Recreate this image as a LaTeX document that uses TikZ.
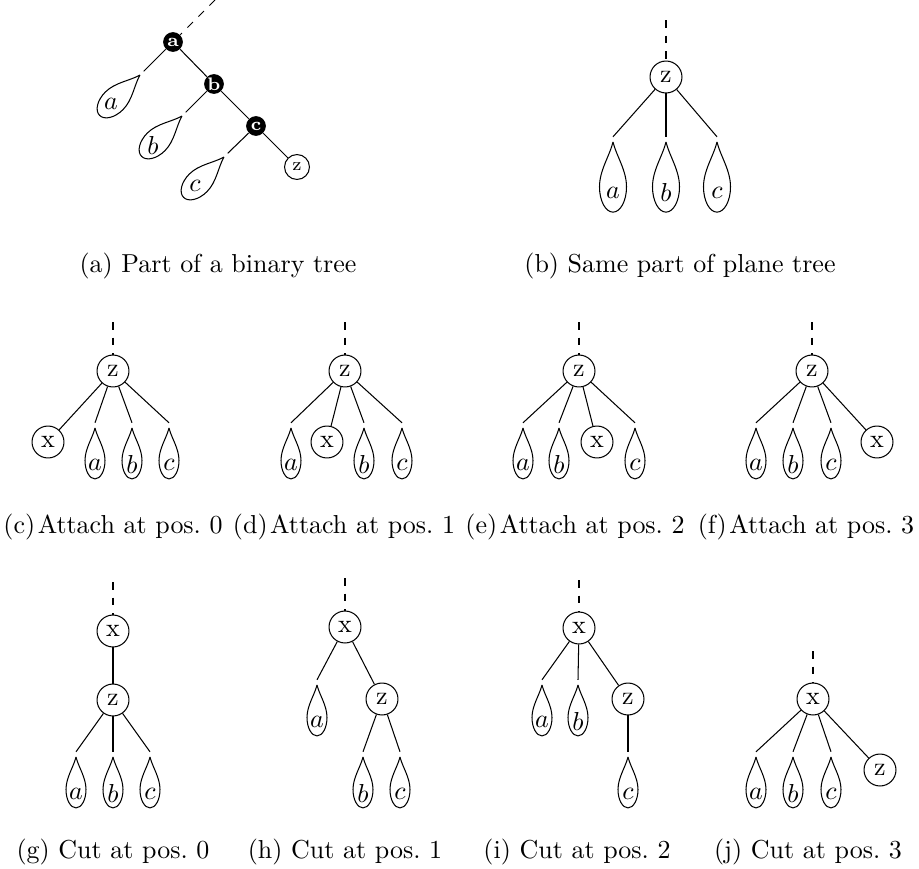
\documentclass[tikz,border=0pt]{standalone}
\usetikzlibrary{positioning}

\tikzset{
  vert/.style={circle, draw, minimum size=12.3pt, inner sep=0pt},
  blacknode/.style={circle, fill=black, text=white, font=\scriptsize\bfseries,
    minimum size=7.6pt, inner sep=0pt},
  tinyvert/.style={circle, draw, font=\scriptsize, minimum size=9.6pt, inner sep=0pt},
  stub/.style={dashed},
  leafw/.store in=\leafw, leafh/.store in=\leafh,
  leafw=3.85pt, leafh=19.6pt,
  bigleaf/.style={leafw=5.2pt, leafh=27pt},
  tiltleaf/.style={rotate=-45, leafw=4.8pt, leafh=22pt},
  pics/leaf/.style={code={
    \coordinate (-top) at (0,2pt);
    \draw (0,0) .. controls (-0.25*\leafw,-0.2*\leafh) and (-\leafw,-0.4*\leafh) .. (-\leafw,-0.64*\leafh)
          .. controls (-\leafw,-0.84*\leafh) and (-0.55*\leafw,-\leafh) .. (0,-\leafh)
          .. controls (0.55*\leafw,-\leafh) and (\leafw,-0.84*\leafh) .. (\leafw,-0.64*\leafh)
          .. controls (\leafw,-0.4*\leafh) and (0.25*\leafw,-0.2*\leafh) .. (0,0);
    \node at (0,-0.72*\leafh) {$#1$};
  }},
}

\begin{document}
\begin{tikzpicture}[x=0.385pt, y=-0.385pt]
\useasboundingbox (0,0) rectangle (919,869);

% (a) binary tree
\coordinate (topA) at (215,0);
\node[blacknode] (aA) at (173,42) {a};
\node[blacknode] (bA) at (214,84) {b};
\node[blacknode] (cA) at (256,126) {c};
\node[tinyvert] (zA) at (297,167) {z};
\pic[tiltleaf] (laA) at (140,75) {leaf=a};
\pic[tiltleaf] (lbA) at (182,116) {leaf=b};
\pic[tiltleaf] (lcA) at (224,157) {leaf=c};
\draw[stub] (topA) -- (aA);
\draw (aA) -- (bA) -- (cA) -- (zA);
\draw (aA) -- (laA-top);
\draw (bA) -- (lbA-top);
\draw (cA) -- (lcA-top);
\node (capA) at (218,266) {(a) Part of a binary tree};

% (b) plane tree
\coordinate (topB) at (666,20);
\node[vert] (zB) at (666,77) {z};
\pic[bigleaf] (laB) at (613,142) {leaf=a};
\pic[bigleaf] (lbB) at (666,142) {leaf=b};
\pic[bigleaf] (lcB) at (717,142) {leaf=c};
\draw[stub] (topB) -- (zB);
\draw (zB) -- (laB-top);
\draw (zB) -- (lbB-top);
\draw (zB) -- (lcB-top);
\node (capB) at (680,266) {(b) Same part of plane tree};

% (c) attach at 0
\coordinate (topC) at (113,322);
\node[vert] (zC) at (113,371) {z};
\node[vert] (xC) at (48,442) {x};
\pic (laC) at (95,428) {leaf=a};
\pic (lbC) at (132,428) {leaf=b};
\pic (lcC) at (169,428) {leaf=c};
\draw[stub] (topC) -- (zC);
\draw (zC) -- (xC);
\draw (zC) -- (laC-top);
\draw (zC) -- (lbC-top);
\draw (zC) -- (lcC-top);
\node (capC) at (113,527) {(c)\kern1pt Attach at pos.~0};

% (d) attach at 1
\coordinate (topD) at (345,322);
\node[vert] (zD) at (345,371) {z};
\node[vert] (xD) at (327,442) {x};
\pic (laD) at (291,428) {leaf=a};
\pic (lbD) at (364,428) {leaf=b};
\pic (lcD) at (402,428) {leaf=c};
\draw[stub] (topD) -- (zD);
\draw (zD) -- (laD-top);
\draw (zD) -- (xD);
\draw (zD) -- (lbD-top);
\draw (zD) -- (lcD-top);
\node (capD) at (344,527) {(d)\kern1pt Attach at pos.~1};

% (e) attach at 2
\coordinate (topE) at (579,322);
\node[vert] (zE) at (579,371) {z};
\node[vert] (xE) at (597,442) {x};
\pic (laE) at (523,428) {leaf=a};
\pic (lbE) at (559,428) {leaf=b};
\pic (lcE) at (635,428) {leaf=c};
\draw[stub] (topE) -- (zE);
\draw (zE) -- (laE-top);
\draw (zE) -- (lbE-top);
\draw (zE) -- (xE);
\draw (zE) -- (lcE-top);
\node (capE) at (575,527) {(e)\kern1pt Attach at pos.~2};

% (f) attach at 3
\coordinate (topF) at (812,322);
\node[vert] (zF) at (812,371) {z};
\node[vert] (xF) at (877,442) {x};
\pic (laF) at (756,428) {leaf=a};
\pic (lbF) at (793,428) {leaf=b};
\pic (lcF) at (831,428) {leaf=c};
\draw[stub] (topF) -- (zF);
\draw (zF) -- (laF-top);
\draw (zF) -- (lbF-top);
\draw (zF) -- (lcF-top);
\draw (zF) -- (xF);
\node (capF) at (806,527) {(f)\kern1pt Attach at pos.~3};

% (g) cut at 0
\coordinate (topG) at (113,582);
\node[vert] (xG) at (113,631) {x};
\node[vert] (zG) at (113,700) {z};
\pic (laG) at (76,757) {leaf=a};
\pic (lbG) at (113,757) {leaf=b};
\pic (lcG) at (150,757) {leaf=c};
\draw[stub] (topG) -- (xG);
\draw (xG) -- (zG);
\draw (zG) -- (laG-top);
\draw (zG) -- (lbG-top);
\draw (zG) -- (lcG-top);
\node (capG) at (113,852) {(g) Cut at pos.~0};

% (h) cut at 1
\coordinate (topH) at (345,578);
\node[vert] (xH) at (345,627) {x};
\node[vert] (zH) at (382,699) {z};
\pic (laH) at (317,685) {leaf=a};
\pic (lbH) at (363,757) {leaf=b};
\pic (lcH) at (400,757) {leaf=c};
\draw[stub] (topH) -- (xH);
\draw (xH) -- (laH-top);
\draw (xH) -- (zH);
\draw (zH) -- (lbH-top);
\draw (zH) -- (lcH-top);
\node (capH) at (345,852) {(h) Cut at pos.~1};

% (i) cut at 2
\coordinate (topI) at (579,580);
\node[vert] (xI) at (579,628) {x};
\node[vert] (zI) at (628,699) {z};
\pic (laI) at (542,685) {leaf=a};
\pic (lbI) at (578,685) {leaf=b};
\pic (lcI) at (628,757) {leaf=c};
\draw[stub] (topI) -- (xI);
\draw (xI) -- (laI-top);
\draw (xI) -- (lbI-top);
\draw (xI) -- (zI);
\draw (zI) -- (lcI-top);
\node (capI) at (577,852) {(i) Cut at pos.~2};

% (j) cut at 3
\coordinate (topJ) at (813,651);
\node[vert] (xJ) at (813,699) {x};
\node[vert] (zJ) at (880,770) {z};
\pic (laJ) at (756,757) {leaf=a};
\pic (lbJ) at (793,757) {leaf=b};
\pic (lcJ) at (831,757) {leaf=c};
\draw[stub] (topJ) -- (xJ);
\draw (xJ) -- (laJ-top);
\draw (xJ) -- (lbJ-top);
\draw (xJ) -- (lcJ-top);
\draw (xJ) -- (zJ);
\node (capJ) at (808,852) {(j) Cut at pos.~3};
\end{tikzpicture}
\end{document}
